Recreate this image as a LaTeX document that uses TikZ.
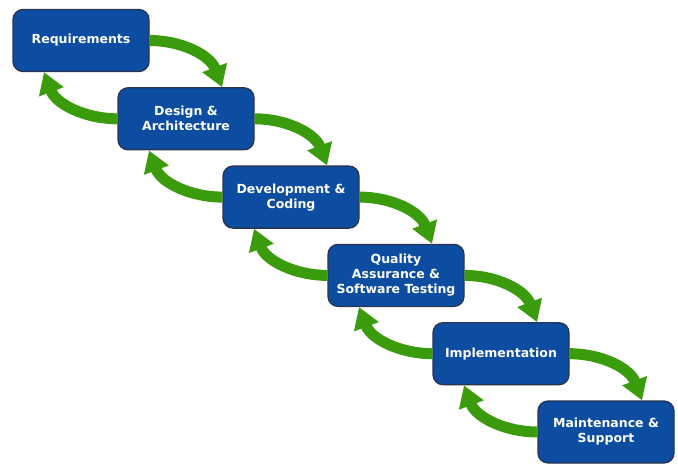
\documentclass[tikz,border=0pt]{standalone}
\usepackage{fontspec}
\setmainfont{DejaVu Sans}
\usetikzlibrary{arrows.meta}
\definecolor{phaseblue}{RGB}{12,77,162}
\definecolor{phaseedge}{RGB}{40,52,80}
\definecolor{loopgreen}{RGB}{58,155,12}

\begin{document}
\begin{tikzpicture}[x=1pt,y=-1pt,
  phase/.style={draw=phaseedge, line width=1.3pt, fill=phaseblue, rounded corners=10pt,
    minimum width=136pt, minimum height=62pt, inner sep=0pt, align=center,
    text=white, font=\bfseries\fontsize{12.5}{15}\selectfont},
  flow/.style={draw=loopgreen, line width=11pt, -{Triangle[width=25pt,length=21pt]}}]
\useasboundingbox (0,0) rectangle (678,464);

% phases
\node [phase] (req) at (81,40.5) {Requirements};
\node [phase] (des) at (186,118.8) {Design \&\\Architecture};
\node [phase] (dev) at (291,197.1) {Development \&\\Coding};
\node [phase] (qa)  at (396,275.4) {Quality\\Assurance \&\\Software Testing};
\node [phase] (imp) at (501,353.7) {Implementation};
\node [phase] (mnt) at (606,432) {Maintenance \&\\Support};

% forward
\draw [flow] (req.east) .. controls +(32,0) and +(-12,-32) .. ([xshift=36pt]des.north);
\draw [flow] (des.east) .. controls +(32,0) and +(-12,-32) .. ([xshift=36pt]dev.north);
\draw [flow] (dev.east) .. controls +(32,0) and +(-12,-32) .. ([xshift=36pt]qa.north);
\draw [flow] (qa.east) .. controls +(32,0) and +(-12,-32) .. ([xshift=36pt]imp.north);
\draw [flow] (imp.east) .. controls +(32,0) and +(-12,-32) .. ([xshift=36pt]mnt.north);

% back
\draw [flow] (des.west) .. controls +(-32,0) and +(12,32) .. ([xshift=-37pt]req.south);
\draw [flow] (dev.west) .. controls +(-32,0) and +(12,32) .. ([xshift=-37pt]des.south);
\draw [flow] (qa.west) .. controls +(-32,0) and +(12,32) .. ([xshift=-37pt]dev.south);
\draw [flow] (imp.west) .. controls +(-32,0) and +(12,32) .. ([xshift=-37pt]qa.south);
\draw [flow] (mnt.west) .. controls +(-32,0) and +(12,32) .. ([xshift=-37pt]imp.south);
\end{tikzpicture}
\end{document}
